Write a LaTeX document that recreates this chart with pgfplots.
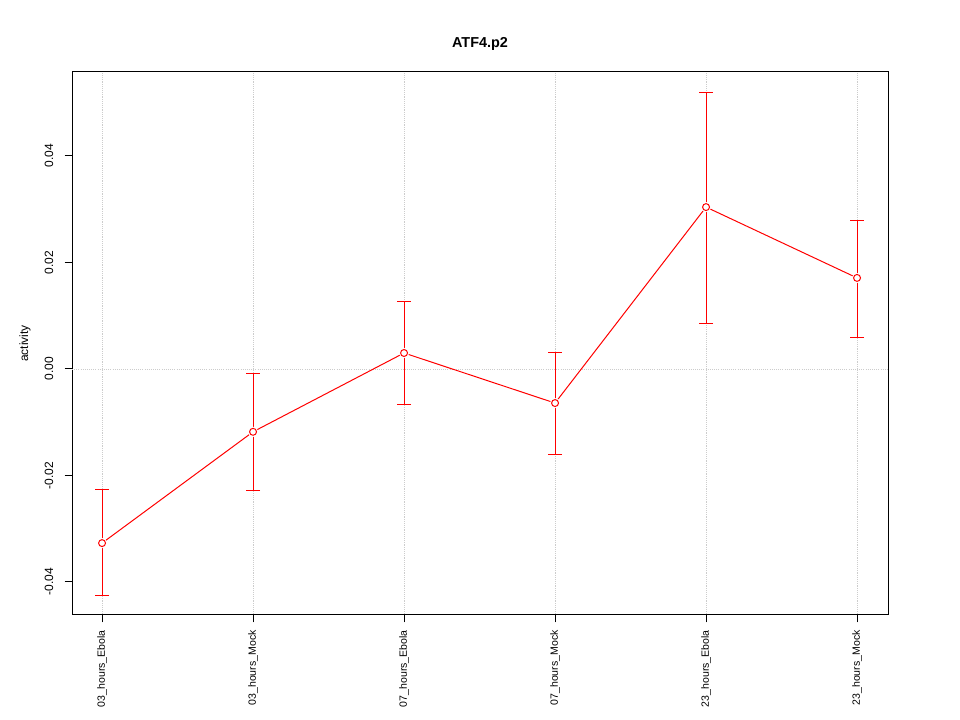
\documentclass[border=0pt]{standalone}
\usepackage{fontspec}
\setmainfont{Liberation Sans}
\usepackage{pgfplots}
\pgfplotsset{compat=1.18}
\begin{document}
\begin{tikzpicture}
\path[use as bounding box] (0,0) rectangle (720pt,540pt);
\begin{axis}[
  at={(54pt,78.75pt)}, anchor=south west,
  scale only axis, width=612pt, height=407.25pt,
  xmin=-0.199, xmax=5.205, ymin=-0.0462, ymax=0.05577,
  scaled y ticks=false,
  axis line style={black, line width=0.75pt},
  tick align=outside, xtick pos=left, ytick pos=left,
  major tick length=5.5pt,
  tick style={black, line width=0.75pt},
  xtick={0,1,2,3,4,5},
  xticklabels={03\_hours\_Ebola,03\_hours\_Mock,07\_hours\_Ebola,07\_hours\_Mock,23\_hours\_Ebola,23\_hours\_Mock},
  ytick={-0.04,-0.02,0,0.02,0.04},
  yticklabels={-0.04,-0.02,0.00,0.02,0.04},
  xticklabel style={rotate=90, anchor=east, font=\fontsize{7.9}{9}\selectfont, xshift=-2.5pt},
  yticklabel style={rotate=90, anchor=south, font=\fontsize{9}{10}\selectfont, yshift=5pt},
  xmajorgrids, grid style={densely dotted, gray!40, line width=0.6pt},
  clip=false,
]
\addplot[densely dotted, gray!40, line width=0.6pt, forget plot] coordinates {(-0.199,0) (5.205,0)};
\addplot[red, line width=0.75pt, mark=none] coordinates {
(0,-0.0327) (1,-0.0118) (2,0.0030) (3,-0.0064) (4,0.0304) (5,0.0171)};
\addplot[only marks, mark=*, mark size=3.6pt, draw=white, fill=white] coordinates {
(0,-0.0327) (1,-0.0118) (2,0.0030) (3,-0.0064) (4,0.0304) (5,0.0171)};
\addplot[red, line width=0.75pt, mark=o, mark size=2.6pt, only marks,
  error bars/.cd, y dir=both, y explicit,
  error bar style={red, line width=0.75pt},
  error mark options={red, rotate=90, mark size=5.25pt, line width=0.75pt}]
coordinates {
(0,-0.0327) += (0,0.0100) -= (0,0.0099)
(1,-0.0118) += (0,0.0110) -= (0,0.0111)
(2,0.0030) += (0,0.0096) -= (0,0.0096)
(3,-0.0064) += (0,0.0094) -= (0,0.0096)
(4,0.0304) += (0,0.0216) -= (0,0.0219)
(5,0.0171) += (0,0.0107) -= (0,0.0111)
};
\end{axis}
\node[font=\bfseries\fontsize{10.8}{13}\selectfont] at (360pt,507pt) {ATF4.p2};
\node[rotate=90, font=\fontsize{9}{10}\selectfont] at (18.75pt,282.4pt) {activity};
\end{tikzpicture}
\end{document}
